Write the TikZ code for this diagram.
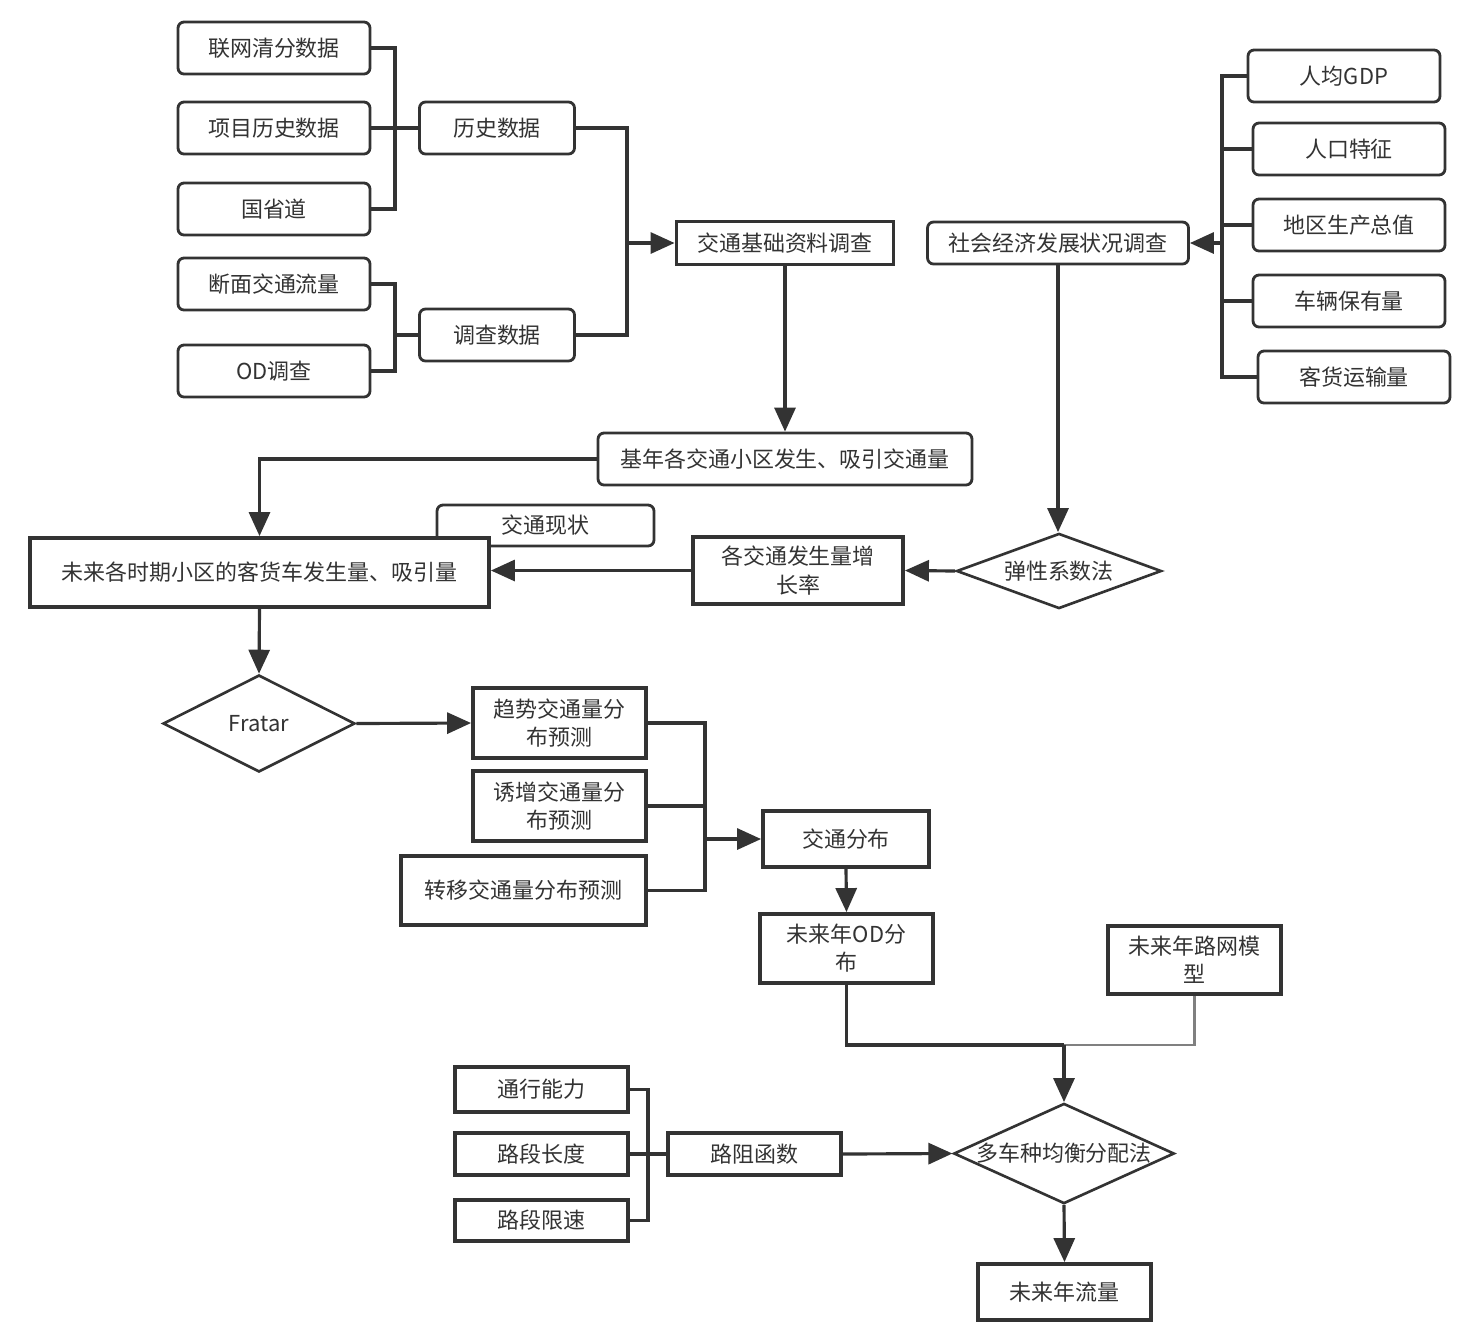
\documentclass[tikz,border=0pt]{standalone}
\usepackage{fontspec}
\setmainfont{Noto Sans CJK SC}
\usetikzlibrary{arrows.meta}
\usetikzlibrary{shapes.geometric}
\definecolor{dgray}{rgb}{0.2, 0.2, 0.2}
\tikzset{box/.style = {draw = dgray, line width = 1.6pt, rounded corners = 0.12cm, fill = white, inner sep = 0, align = center}}
\tikzset{sbox/.style = {draw = dgray, line width = 2.2pt, fill = white, inner sep = 0, align = center}}
\tikzset{diam/.style = {draw = dgray, line width = 1.5pt, diamond, fill = white, inner sep = 0, align = center}}
\tikzset{conn/.style = {draw = dgray, line width = 1.8pt}}
\tikzset{arr/.style = {conn, -{Triangle[length = 0.48cm, width = 0.42cm]}}}

\begin{document}
\begin{tikzpicture}[x = 0.02cm, y = -0.02cm, font = \fontsize{12.5}{16}\selectfont, text = dgray]
    \useasboundingbox (0, 0) rectangle (1462, 1340);

    % base data
    \node [box, minimum width = 3.84cm, minimum height = 1.04cm] (lwqf) at (274, 48) {联网清分数据};
    \node [box, minimum width = 3.84cm, minimum height = 1.04cm] (xmls) at (274, 128) {项目历史数据};
    \node [box, minimum width = 3.84cm, minimum height = 1.04cm] (gsd) at (274, 209) {国省道};
    \node [box, minimum width = 3.84cm, minimum height = 1.04cm] (dmll) at (274, 284) {断面交通流量};
    \node [box, minimum width = 3.84cm, minimum height = 1.04cm] (odc) at (274, 371) {OD调查};
    \node [box, minimum width = 3.1cm, minimum height = 1.04cm] (lssj) at (497, 128) {历史数据};
    \node [box, minimum width = 3.1cm, minimum height = 1.04cm] (dcsj) at (497, 335) {调查数据};
    \node [sbox, minimum width = 4.34cm, minimum height = 0.86cm] (jtjc) at (785, 243) {交通基础资料调查};

    % socio-economic
    \node [box, minimum width = 5.22cm, minimum height = 0.84cm] (shjj) at (1058, 243) {社会经济发展状况调查};
    \node [box, minimum width = 3.84cm, minimum height = 1.04cm] (rjgdp) at (1344, 76) {人均GDP};
    \node [box, minimum width = 3.84cm, minimum height = 1.04cm] (rktz) at (1349, 149) {人口特征};
    \node [box, minimum width = 3.84cm, minimum height = 1.04cm] (dqsc) at (1349, 225) {地区生产总值};
    \node [box, minimum width = 3.84cm, minimum height = 1.04cm] (clby) at (1349, 301) {车辆保有量};
    \node [box, minimum width = 3.84cm, minimum height = 1.04cm] (khys) at (1354, 377) {客货运输量};

    \node [box, minimum width = 7.48cm, minimum height = 1.04cm] (jnxq) at (785, 459) {基年各交通小区发生、吸引交通量};
    \node [box, minimum width = 4.34cm, minimum height = 0.82cm] (jtxz) at (545.5, 525.5) {交通现状};
    \node [sbox, minimum width = 9.18cm, minimum height = 1.38cm] (wlsq) at (259.5, 572.5) {未来各时期小区的客货车发生量、吸引量};
    \node [sbox, minimum width = 4.2cm, minimum height = 1.34cm] (zzl) at (798, 570.5) {各交通发生量增\\长率};
    \node [diam, aspect = 2, minimum width = 4.1cm, minimum height = 1.5cm] (txxs) at (1059, 571) {弹性系数法};

    % distribution
    \node [diam, aspect = 2, minimum width = 3.84cm, minimum height = 1.94cm] (fratar) at (259, 723.5) {Fratar};
    \node [sbox, minimum width = 3.46cm, minimum height = 1.4cm] (qsfb) at (559.5, 723) {趋势交通量分\\布预测};
    \node [sbox, minimum width = 3.46cm, minimum height = 1.4cm] (yzfb) at (559.5, 806) {诱增交通量分\\布预测};
    \node [sbox, minimum width = 4.9cm, minimum height = 1.38cm] (zyfb) at (523.5, 890.5) {转移交通量分布预测};
    \node [sbox, minimum width = 3.32cm, minimum height = 1.12cm] (jtfb) at (846, 839) {交通分布};
    \node [sbox, minimum width = 3.46cm, minimum height = 1.38cm] (ods) at (846.5, 948.5) {未来年OD分\\布};
    \node [sbox, minimum width = 3.46cm, minimum height = 1.36cm] (lwmx) at (1194.5, 960) {未来年路网模\\型};

    % assignment
    \node [sbox, minimum width = 3.46cm, minimum height = 0.9cm] (txnl) at (541.5, 1089.5) {通行能力};
    \node [sbox, minimum width = 3.46cm, minimum height = 0.84cm] (ldcd) at (541.5, 1154) {路段长度};
    \node [sbox, minimum width = 3.46cm, minimum height = 0.82cm] (ldxs) at (541.5, 1220.5) {路段限速};
    \node [sbox, minimum width = 3.46cm, minimum height = 0.84cm] (lzhs) at (754.5, 1154) {路阻函数};
    \node [diam, aspect = 2.2, minimum width = 4.28cm, minimum height = 1.94cm] (assign) at (1064, 1153.5) {多车种均衡分配法};
    \node [sbox, minimum width = 3.46cm, minimum height = 1.12cm] (wlll) at (1064.5, 1292) {未来年流量};

    \coordinate (hb) at (395, 128);
    \coordinate (sb) at (395, 335);
    \coordinate (jb) at (627, 243);
    \coordinate (rb) at (1222, 243);
    \coordinate (fb) at (705, 839);
    \coordinate (mg) at (1064, 1045);
    \coordinate (lb) at (648, 1154);

    \draw [conn] (lwqf.east) -| (hb) |- (gsd.east);
    \draw [conn] (xmls.east) -- (lssj.west);
    \draw [conn] (dmll.east) -| (sb) |- (odc.east);
    \draw [conn] (sb) -- (dcsj.west);
    \draw [conn] (lssj.east) -| (jb) |- (dcsj.east);
    \draw [arr] (jb) -- (jtjc.west);

    \draw [conn] (rjgdp.west) -| (rb) |- (khys.west);
    \draw [conn] (rktz.west) -- (rktz.west -| rb);
    \draw [conn] (dqsc.west) -- (dqsc.west -| rb);
    \draw [conn] (clby.west) -- (clby.west -| rb);
    \draw [arr] (rb) -- (shjj.east);

    \draw [arr] (jtjc.south) -- (jnxq.north);
    \draw [arr] (jnxq.west) -| (wlsq.north);
    \draw [arr] (shjj.south) -- (shjj.south |- txxs.north);
    \draw [arr] (txxs.west) -- (zzl.east);
    \draw [arr] (zzl.west) -- (zzl.west -| wlsq.east);

    \draw [arr] (wlsq.south) -- (fratar.north);
    \draw [arr] (fratar.east) -- (qsfb.west);
    \draw [conn] (qsfb.east) -| (fb) |- (zyfb.east);
    \draw [conn] (yzfb.east) -- (yzfb.east -| fb);
    \draw [arr] (fb) -- (jtfb.west);
    \draw [arr] (jtfb.south) -- (ods.north);

    \draw [conn] (ods.south) |- (mg);
    \draw [conn, draw = gray, line width = 1.2pt] (mg) -| (lwmx.south);
    \draw [arr] (mg) -- (assign.north);

    \draw [conn] (txnl.east) -| (lb) |- (ldxs.east);
    \draw [conn] (ldcd.east) -- (lzhs.west);
    \draw [arr] (lzhs.east) -- (assign.west);
    \draw [arr] (assign.south) -- (wlll.north);
\end{tikzpicture}
\end{document}
